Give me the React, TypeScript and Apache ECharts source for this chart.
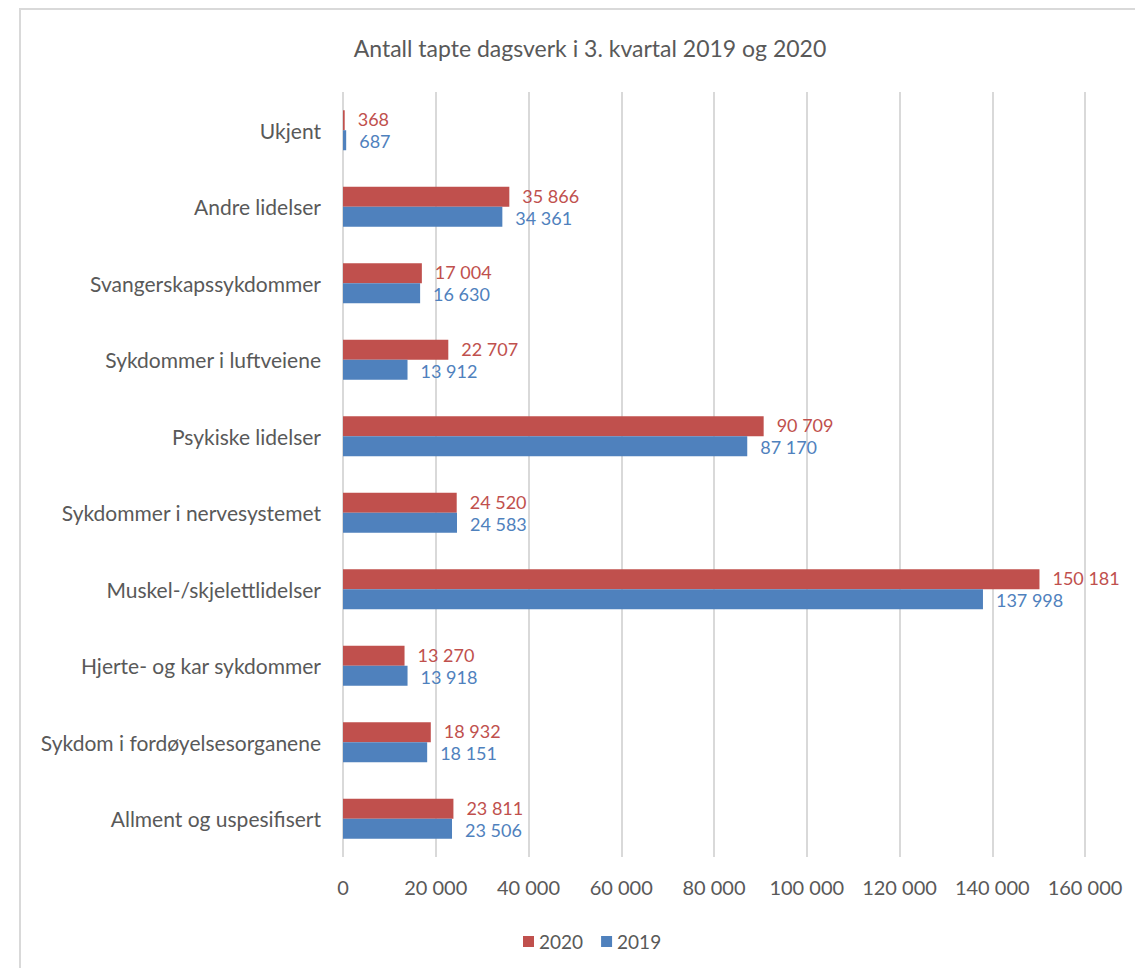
import React, { useEffect, useRef } from "react";
import * as echarts from "echarts";

const categories = [
  "Allment og uspesifisert",
  "Sykdom i fordøyelsesorganene",
  "Hjerte- og kar sykdommer",
  "Muskel-/skjelettlidelser",
  "Sykdommer i nervesystemet",
  "Psykiske lidelser",
  "Sykdommer i luftveiene",
  "Svangerskapssykdommer",
  "Andre lidelser",
  "Ukjent",
];
const values2020 = [23811, 18932, 13270, 150181, 24520, 90709, 22707, 17004, 35866, 368];
const values2019 = [23506, 18151, 13918, 137998, 24583, 87170, 13912, 16630, 34361, 687];
const xTicks = [0, 20000, 40000, 60000, 80000, 100000, 120000, 140000, 160000];

const RED = "#C0504D";
const BLUE = "#4F81BD";
const TXT = "#595959";
const FONT = "Lato, 'Open Sans', sans-serif";

const fmt = (v: number) => String(Math.round(v)).replace(/\B(?=(\d{3})+(?!\d))/g, " ");

export default function App() {
  const ref = useRef<HTMLDivElement>(null);
  useEffect(() => {
    if (!ref.current) return;
    const chart = echarts.init(ref.current, undefined, { renderer: "svg" });
    const valueLabel = (color: string, dy: number) => ({
      show: true,
      position: "right",
      distance: 13,
      offset: [0, dy],
      color,
      fontSize: 18,
      lineHeight: 18,
      fontFamily: FONT,
      formatter: (p: any) => fmt(p.value),
    });
    chart.setOption({
      animation: false,
      backgroundColor: "#ffffff",
      textStyle: { fontFamily: FONT },
      title: {
        text: "Antall tapte dagsverk i 3. kvartal 2019 og 2020",
        left: 585,
        textAlign: "center",
        top: 31,
        textStyle: { color: TXT, fontSize: 23, fontWeight: "normal", fontFamily: FONT },
      },
      graphic: [
        {
          type: "rect",
          shape: { x: 20, y: 9, width: 1130, height: 970 },
          style: { fill: "none", stroke: "#d9d9d9", lineWidth: 2 },
          silent: true,
        },
      ],
      legend: {
        data: ["2020", "2019"],
        left: 518,
        top: 927,
        itemWidth: 11,
        itemHeight: 11,
        itemGap: 18,
        icon: "rect",
        textStyle: { color: TXT, fontSize: 19, fontFamily: FONT },
      },
      grid: { left: 343, right: 50, top: 92, bottom: 111, containLabel: false },
      xAxis: {
        type: "value",
        min: xTicks[0],
        max: xTicks[xTicks.length - 1],
        interval: xTicks[1] - xTicks[0],
        axisLine: { show: false },
        axisTick: { show: false },
        splitLine: { show: true, lineStyle: { color: "#d9d9d9", width: 2 } },
        axisLabel: {
          color: TXT,
          fontSize: 20,
          fontFamily: FONT,
          margin: 20,
          formatter: (v: number) => fmt(v),
        },
      },
      yAxis: {
        type: "category",
        data: categories,
        axisLine: { show: false },
        axisTick: { show: false },
        axisLabel: { color: TXT, fontSize: 21, fontFamily: FONT, margin: 22 },
      },
      series: [
        {
          name: "2020",
          type: "bar",
          data: values2020,
          barWidth: 20,
          barGap: "0%",
          itemStyle: { color: RED },
          label: valueLabel(RED, -1),
        },
        {
          name: "2019",
          type: "bar",
          data: values2019,
          barWidth: 20,
          barGap: "0%",
          itemStyle: { color: BLUE },
          label: valueLabel(BLUE, 1),
        },
      ],
    });
    return () => chart.dispose();
  }, []);
  return (
    <div
      ref={ref}
      style={{ position: "absolute", left: 0, top: 0, width: 1135, height: 968, background: "#fff" }}
    />
  );
}
